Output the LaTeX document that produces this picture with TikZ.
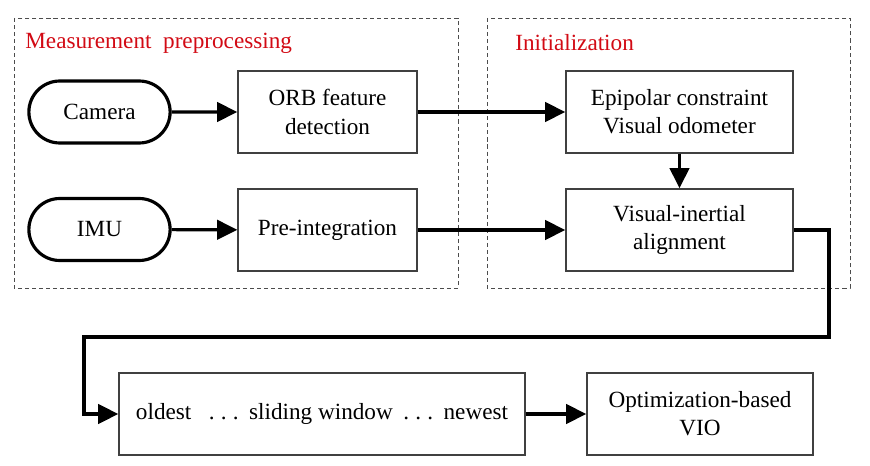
\documentclass[tikz,border=0pt]{standalone}
\usepackage{fontspec}
\setmainfont{Liberation Serif}
\usetikzlibrary{arrows.meta,shapes.misc}
\definecolor{titlered}{RGB}{210,10,20}
\newcommand{\spdots}{.\hspace{0.27em}.\hspace{0.27em}.}

\begin{document}
\begin{tikzpicture}[x=0.02cm,y=-0.02cm,
        font=\fontsize{13.2}{16}\selectfont,
        sensor/.style={rounded rectangle,draw,line width=1.8pt,minimum width=3.06cm,minimum height=1.24cm},
        block/.style={rectangle,draw=black!75,line width=0.8pt,align=center,minimum height=1.64cm},
        groupbox/.style={draw=black!70,line width=0.5pt,dash pattern=on 2.3pt off 1.7pt},
        grouptitle/.style={text=titlered,anchor=west,inner sep=0pt},
        flow/.style={line width=1.8pt,-{Triangle[length=11.5pt,width=11pt]}}]
                \useasboundingbox (0,0) rectangle (870,466);
                \draw[groupbox] (14,18) rectangle (458,288);
                \draw[groupbox] (487,18) rectangle (850,288);
                \node[grouptitle] (pretitle) at (25,43) {Measurement\ \ preprocessing};
                \node[grouptitle] (inittitle) at (515,43) {Initialization};
                \node[sensor] (camera) at (99.5,112) {Camera};
                \node[sensor] (imu) at (99.5,229.5) {IMU};
                \node[block,minimum width=3.58cm] (orb) at (327.5,112) {ORB feature\\detection};
                \node[block,minimum width=3.58cm] (preint) at (327.5,230) {Pre-integration};
                \node[block,minimum width=4.54cm] (epipolar) at (679.5,112) {Epipolar constraint\\Visual odometer};
                \node[block,minimum width=4.54cm] (align) at (679.5,230) {Visual-inertial\\alignment};
                \node[block,minimum width=8.12cm] (window) at (322,414) {oldest\hspace{0.75em}\spdots\hspace{0.45em}sliding window\hspace{0.45em}\spdots\hspace{0.45em}newest};
                \node[block,minimum width=4.52cm] (vio) at (700,414) {Optimization-based\\VIO};
                \coordinate (turnright) at (829,337);
                \coordinate (turnleft) at (84,337);
                \draw[flow] (camera) -- (orb);
                \draw[flow] (imu) -- (preint);
                \draw[flow] (orb) -- (epipolar);
                \draw[flow] (preint) -- (align);
                \draw[flow] (epipolar) -- (align);
                \draw[flow] (align.east) -| (turnright) -- (turnleft) |- (window.west);
                \draw[flow] (window) -- (vio);
            \end{tikzpicture}
\end{document}
